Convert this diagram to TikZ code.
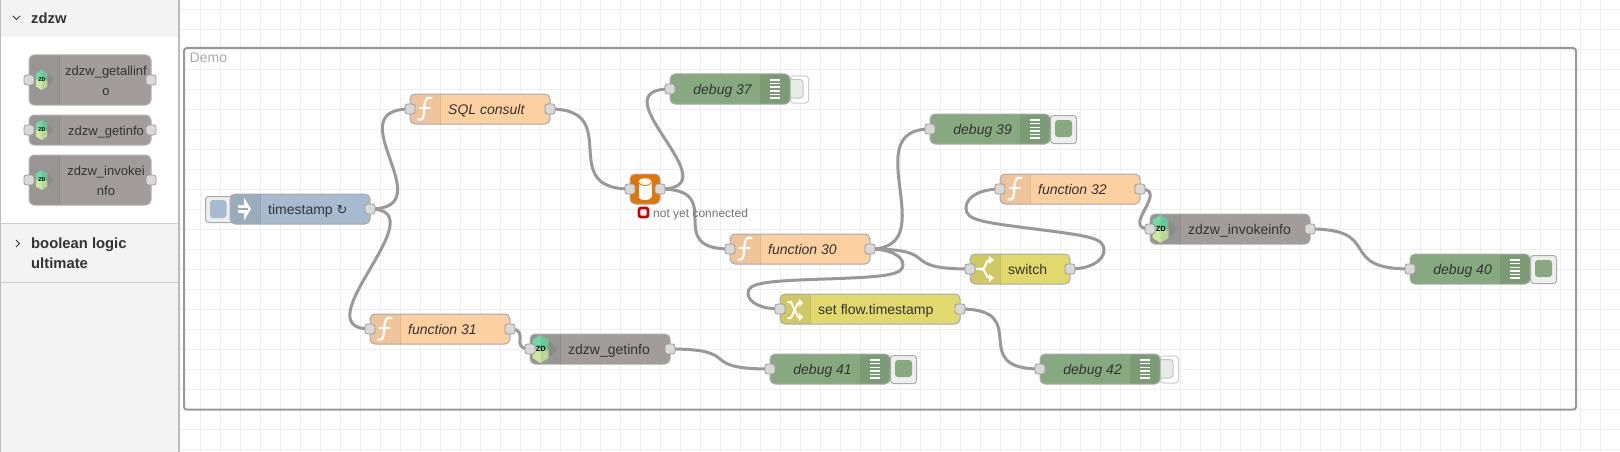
\documentclass[tikz,border=0pt]{standalone}
\usepackage{fontspec}
\setmainfont{Liberation Sans}
\newfontfamily\symfont{DejaVu Sans}
\pgfdeclarelayer{bg}
\pgfdeclarelayer{wires}
\pgfsetlayers{bg,wires,main}
\definecolor{gridc}{HTML}{EEEEEE}
\definecolor{sideg}{HTML}{F3F3F3}
\definecolor{edgec}{HTML}{AAAAAA}
\definecolor{wirec}{HTML}{999999}
\definecolor{portc}{HTML}{D9D9D9}
\definecolor{txtc}{HTML}{333333}
\definecolor{fnc}{HTML}{FDD0A2}
\definecolor{fni}{HTML}{EFC49A}
\definecolor{dbg}{HTML}{87A980}
\definecolor{dbi}{HTML}{7B9B74}
\definecolor{inj}{HTML}{A6BBCF}
\definecolor{ini}{HTML}{98ACBE}
\definecolor{yel}{HTML}{E2D96E}
\definecolor{yei}{HTML}{D0C865}
\definecolor{zdw}{HTML}{A29C9C}
\definecolor{zdi}{HTML}{9A9595}
\definecolor{dbo}{HTML}{E27600}
\definecolor{hexa}{HTML}{72D8A6}
\definecolor{hexb}{HTML}{C9E9A4}
\newif\ifinport
\inporttrue
\tikzset{
  x=1pt,y=-1pt,
  nodebox/.style={rectangle,rounded corners=5pt,inner sep=0pt,outer sep=0pt,anchor=north west},
  nodeedge/.style={draw=edgec,line width=1pt,rounded corners=5pt},
  port/.style={rectangle,rounded corners=2.5pt,draw=wirec,line width=.8pt,fill=portc,minimum width=10pt,minimum height=10pt,inner sep=0pt},
  lbl/.style={font=\fontsize{14}{20}\selectfont,text=txtc,inner sep=0pt},
  ilbl/.style={font=\fontsize{14}{20}\itshape\selectfont,text=txtc,inner sep=0pt},
  plbl/.style={font=\fontsize{13}{20}\selectfont,text=txtc,inner sep=0pt},
  wire/.style={draw=wirec,line width=3pt,line cap=round},
  gridl/.style={draw=gridc,line width=1pt},
  btnbox/.style={rectangle,rounded corners=3pt,draw=edgec,line width=1pt,fill=gridc,inner sep=0pt,anchor=north west},
  ico/.style={draw=white,line cap=round,line join=round},
  pics/fico/.style={code={
    \draw[ico,line width=2.2pt] (6.5,-11) .. controls (1,-13) and (-.5,-8) .. (-.8,0) .. controls (-1,8) and (-2,12) .. (-7,10.5);
    \draw[ico,line width=1.6pt] (-5.5,-1) -- (5,-1);
  }},
  pics/dbgico/.style={code={
    \foreach \k in {-9,-5.4,-1.8,1.8,5.4,9}{\draw[white,line width=1.4pt] (-5,\k) -- (5,\k);}
  }},
  pics/injico/.style={code={
    \fill[white] (-7,-4) -- (-1,-4) -- (-1,-11.5) -- (6,0) -- (-1,11.5) -- (-1,4) -- (-7,4) -- cycle;
    \draw[ini,line width=1.3pt] (-8,0) -- (3,0);
  }},
  pics/swico/.style={code={
    \draw[ico,line width=2.2pt] (-8,0) -- (-3,0) .. controls (1,0) and (0,-9) .. (5,-9);
    \draw[ico,line width=2.2pt] (-3,0) .. controls (1,0) and (0,9) .. (5,9);
    \fill[white] (9,-9) -- (4,-13) -- (4,-5) -- cycle;
    \fill[white] (9,9) -- (4,5) -- (4,13) -- cycle;
  }},
  pics/chgico/.style={code={
    \draw[ico,line width=2pt] (-7,-7) -- (-4,-7) -- (3,8) -- (5,8);
    \draw[ico,line width=2pt] (-7,9) -- (-4,9) -- (3,-6) -- (5,-6);
    \fill[white] (8,-6) -- (4,-10) -- (4,-2) -- cycle;
    \fill[white] (8,8) -- (4,4) -- (4,12) -- cycle;
  }},
  zdtxt/.style={inner sep=0pt,font=\fontsize{7.5}{7.5}\selectfont,transform shape},
  pics/zdico/.style={code={
    \fill[hexa] (-8,-9) -- (0,-14) -- (8,-9) -- (8,0) -- (-8,0) -- cycle;
    \fill[hexb] (-8,9) -- (0,14) -- (8,9) -- (8,0) -- (-8,0) -- cycle;
    \fill[black,opacity=.08] (0,-14) -- (8,-9) -- (17,0) -- (8,9) -- (0,14) -- cycle;
    \node[zdtxt,text=black,anchor=east] at (5.5,0) {\textbf{ZD}};
    \node[zdtxt,text=black!45,anchor=west] at (5.5,0) {ZW};
  }},
}
\def\nedge{edgec}
% name, left, top, width, height, body, icon colour, icon drawing
\newcommand{\leftbox}[8]{%
  \node[nodebox,fill=#6,minimum width=#4pt,minimum height=#5pt] (#1) at (#2,#3) {};
  \begin{scope}
    \clip[rounded corners=5pt] (#1.north west) rectangle (#1.south east);
    \fill[#7] (#1.north west) rectangle ([xshift=30pt]#1.south west);
    \draw[black,opacity=.12,line width=1pt] ([xshift=30pt]#1.north west) -- ([xshift=30pt]#1.south west);
  \end{scope}
  \draw[nodeedge,draw=\nedge] (#1.north west) rectangle (#1.south east);
  #8
  \ifinport\node[port] (#1i) at (#1.west) {};\fi
  \node[port] (#1o) at (#1.east) {};
}
\newcommand{\debugbox}[5]{% name,left,top,label,active(1/0)
  \ifnum#5=1
    \node[btnbox,minimum width=26pt,minimum height=28pt] (#1b) at (#2+120,#3+1) {};
    \fill[dbg,rounded corners=3pt] (#2+125,#3+6) rectangle (#2+142,#3+23);
  \else
    \node[btnbox,fill=white,draw=edgec!60,minimum width=18pt,minimum height=27pt] (#1b) at (#2+120,#3+1.5) {};
    \fill[dbg!22,rounded corners=3pt] (#2+115,#3+5.5) rectangle (#2+133,#3+24);
    \draw[edgec!70,line width=1pt,rounded corners=3pt] (#2+115,#3+5.5) rectangle (#2+133,#3+24);
  \fi
  \node[nodebox,fill=dbg,minimum width=120pt,minimum height=30pt] (#1) at (#2,#3) {};
  \begin{scope}
    \clip[rounded corners=5pt] (#1.north west) rectangle (#1.south east);
    \fill[dbi] ([xshift=-30pt]#1.north east) rectangle (#1.south east);
  \end{scope}
  \draw[nodeedge] (#1.north west) rectangle (#1.south east);
  \node[port] (#1i) at (#1.west) {};
  \node[ilbl,anchor=base east] (#1t) at ([xshift=-38pt,yshift=-5pt]#1.east) {#4};
  \pic at ([xshift=-15pt]#1.east) {dbgico};
}
\begin{document}
\begin{tikzpicture}
\useasboundingbox (0,0) rectangle (1620,452);
\begin{pgfonlayer}{bg}
  \fill[white] (0,0) rectangle (1620,452);
  \foreach \gx in {200,220,...,1620}{\draw[gridl] (\gx+.5,0) -- (\gx+.5,452);}
  \foreach \gy in {10,30,...,450}{\draw[gridl] (180,\gy-.5) -- (1620,\gy-.5);}
  \fill[sideg] (0,0) rectangle (179,452);
  \fill[white] (1,37) rectangle (178,223);
  \draw[edgec!60,line width=1pt] (0,223.5) -- (178,223.5);
  \draw[edgec!60,line width=1pt] (0,282.5) -- (178,282.5);
  \draw[edgec!80,line width=1.2pt] (.6,0) -- (.6,452);
  \draw[edgec!80,line width=1.5pt] (179.2,0) -- (179.2,452);
  \draw[wirec,line width=2pt,rounded corners=3pt] (184,48) rectangle (1576,409.7);
\end{pgfonlayer}
\node[font=\fontsize{14}{16}\selectfont,text=edgec,anchor=base west,inner sep=0pt] (demo) at (189.5,63) {Demo};
% sidebar
\node[font=\bfseries\fontsize{14.8}{20}\selectfont,text=txtc,anchor=base west,inner sep=0pt] (hzd) at (31,23.5) {zdzw};
\node[font=\bfseries\fontsize{14.8}{20}\selectfont,text=txtc,anchor=north west,align=left,inner sep=0pt] (hbo) at (31,238) {boolean logic\\ultimate};
\draw[txtc,line width=1pt] (13,16) -- (16.5,19.5) -- (20,16);
\draw[txtc,line width=1pt] (16,240) -- (19.5,243.5) -- (16,247);
% palette
\def\nedge{zdw!80!white}
\leftbox{pa}{29}{55}{122}{50}{zdw}{zdi}{\pic[scale=.72] at (41.7,80) {zdico};}
\node[plbl,align=center] (pat) at (106,81) {zdzw\_getallinf\\o};
\leftbox{pb}{29}{115}{122}{30}{zdw}{zdi}{\pic[scale=.72] at (41.7,130) {zdico};}
\node[plbl,anchor=base] (pbt) at (106,135) {zdzw\_getinfo};
\leftbox{pc}{29}{155}{122}{50}{zdw}{zdi}{\pic[scale=.72] at (41.7,180) {zdico};}
\node[plbl,align=center] (pct) at (106,181) {zdzw\_invokei\\nfo};
\def\nedge{edgec}
% inject
\node[btnbox,minimum width=28pt,minimum height=26pt] (tsb) at (205,196) {};
\fill[inj,rounded corners=3pt] (210,200) rectangle (226.5,218);
\inportfalse
\leftbox{ts}{230}{194}{140}{30}{inj}{ini}{\pic at (245,209) {injico};}
\inporttrue
\node[lbl,anchor=base west] (tst) at (268,214) {timestamp {\symfont\fontsize{13}{20}\selectfont ↻}};
% functions
\leftbox{sq}{410}{94}{140}{30}{fnc}{fni}{\pic at (425,109) {fico};}
\node[ilbl,anchor=base west] (sqt) at (448,114) {SQL consult};
\leftbox{ff}{730}{234}{140}{30}{fnc}{fni}{\pic at (745,249) {fico};}
\node[ilbl,anchor=base west] (fft) at (768,254) {function 30};
\leftbox{fo}{370}{314}{140}{30}{fnc}{fni}{\pic at (385,329) {fico};}
\node[ilbl,anchor=base west] (fot) at (408,334) {function 31};
\leftbox{ft}{1000}{174}{140}{30}{fnc}{fni}{\pic at (1015,189) {fico};}
\node[ilbl,anchor=base west] (ftt) at (1038,194) {function 32};
% switch and change
\leftbox{sw}{970}{254}{100}{30}{yel}{yei}{\pic at (985,269) {swico};}
\node[lbl,anchor=base west] (swt) at (1008,274) {switch};
\leftbox{ch}{780}{294}{180}{30}{yel}{yei}{\pic at (795,309) {chgico};}
\node[lbl,anchor=base west] (cht) at (818,314) {set flow.timestamp};
% zdzw
\leftbox{gi}{530}{334}{140}{30}{zdw}{zdi}{\pic at (540.5,349) {zdico};}
\node[lbl,anchor=base west] (git) at (568,354) {zdzw\_getinfo};
\leftbox{iv}{1150}{214}{160}{30}{zdw}{zdi}{\pic at (1160.5,229) {zdico};}
\node[lbl,anchor=base west] (ivt) at (1188,234) {zdzw\_invokeinfo};
% database
\node[nodebox,fill=dbo,minimum width=30pt,minimum height=30pt] (db) at (630,174) {};
\draw[nodeedge] (db.north west) rectangle (db.south east);
\fill[white] (638.5,181.5) rectangle (651.5,197);
\fill[white] (645,181.5) ellipse[x radius=6.5pt,y radius=3.2pt];
\fill[white] (645,197) ellipse[x radius=6.5pt,y radius=3pt];
\draw[dbo,line width=.9pt] (638.5,182.5) .. controls (640,186.5) and (650,186.5) .. (651.5,182.5);
\node[port] (dbi) at (db.west) {};
\node[port] (dbo) at (db.east) {};
\node[rectangle,rounded corners=2pt,draw=red!80!black,line width=2.7pt,fill=white,minimum size=9pt,inner sep=0pt] (dbs) at (643.5,212.5) {};
\node[font=\fontsize{12}{14}\selectfont,text=black!55,anchor=base west,inner sep=0pt] (dbst) at (653,217) {not yet connected};
% debug
\debugbox{da}{670}{74}{debug 37}{0}
\debugbox{db2}{930}{114}{debug 39}{1}
\debugbox{dc}{1410}{254}{debug 40}{1}
\debugbox{dd}{770}{354}{debug 41}{1}
\debugbox{de}{1040}{354}{debug 42}{0}
% wires
\begin{pgfonlayer}{wires}
  \draw[wire] (tso.center) .. controls +(75,0) and +(-75,0) .. (sqi.center);
  \draw[wire] (tso.center) .. controls +(70,0) and +(-70,0) .. (foi.center);
  \draw[wire] (sqo.center) .. controls +(75,0) and +(-75,0) .. (dbi.center);
  \draw[wire] (dbo.center) .. controls +(75,0) and +(-75,0) .. (dai.center);
  \draw[wire] (dbo.center) .. controls +(69,0) and +(-69,0) .. (ffi.center);
  \draw[wire] (ffo.center) .. controls +(75,0) and +(-75,0) .. (db2i.center);
  \draw[wire] (ffo.center) .. controls +(75,0) and +(-75,0) .. (swi.center);
  \draw[wire] (ffo.center) .. controls +(18,0) and +(0,-10) .. (903,265) .. controls +(0,10) and +(60,-2) .. (825,279) .. controls +(-60,2) and +(0,-10) .. (748,293) .. controls +(0,10) and +(-18,0) .. (chi.center);
  \draw[wire] (swo.center) .. controls +(18,0) and +(0,12) .. (1104,250) .. controls +(0,-12) and +(55,7) .. (1035,229) .. controls +(-55,-7) and +(0,12) .. (966,208) .. controls +(0,-12) and +(-18,0) .. (fti.center);
  \draw[wire] (foo.center) .. controls +(21,0) and +(-21,0) .. (gii.center);
  \draw[wire] (fto.center) .. controls +(31,0) and +(-31,0) .. (ivi.center);
  \draw[wire] (gio.center) .. controls +(75,0) and +(-75,0) .. (ddi.center);
  \draw[wire] (ivo.center) .. controls +(75,0) and +(-75,0) .. (dci.center);
  \draw[wire] (cho.center) .. controls +(75,0) and +(-75,0) .. (dei.center);
\end{pgfonlayer}
\end{tikzpicture}
\end{document}
